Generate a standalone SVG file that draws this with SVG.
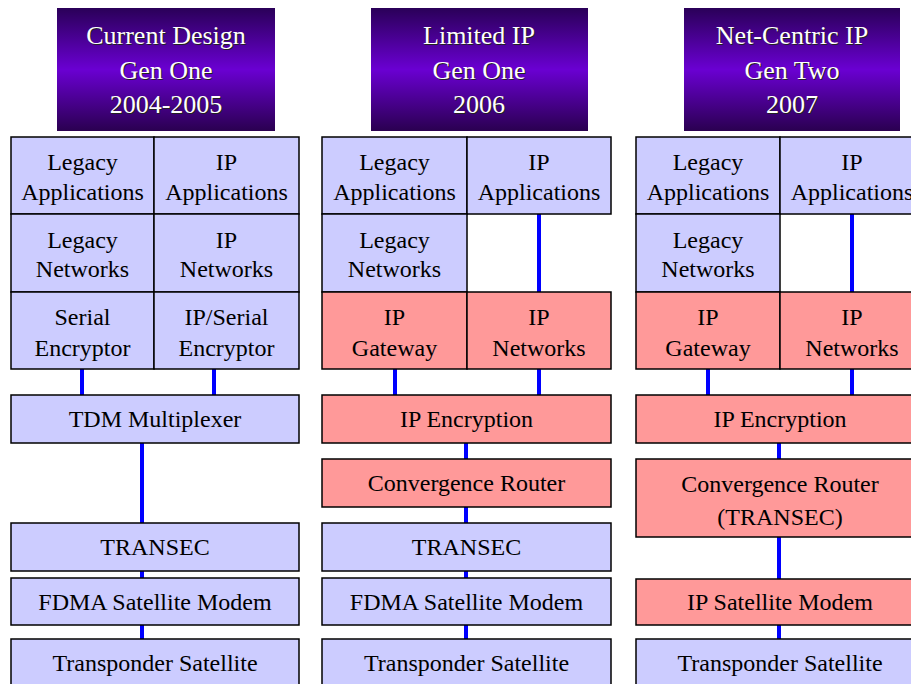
<svg xmlns="http://www.w3.org/2000/svg" width="911" height="684" viewBox="0 0 911 684" font-family="'Liberation Serif', 'DejaVu Serif', serif">
  <defs>
    <linearGradient id="hdrGrad" x1="0" y1="0" x2="0" y2="1">
      <stop offset="0" stop-color="#2a0058"/>
      <stop offset="0.5" stop-color="#6a00d2"/>
      <stop offset="1" stop-color="#2a0050"/>
    </linearGradient>
  </defs>
  <style>
    .hdr { fill: url(#hdrGrad); }
    .ht { font-size: 26px; text-anchor: middle; fill: #ffffff; }
    .hs { font-size: 26px; text-anchor: middle; fill: #222222; }
    .lav { fill: #ccccff; stroke: #000000; stroke-width: 1.5; }
    .red { fill: #ff9999; stroke: #000000; stroke-width: 1.5; }
    .t { font-size: 24px; text-anchor: middle; fill: #000000; }
    .link { stroke: #0000ff; stroke-width: 4; fill: none; }
  </style>
  <rect width="911" height="684" fill="#ffffff"/>

  <!-- column headers -->
  <g id="hdr1" font-family="Liberation Serif">
    <rect class="hdr" x="57" y="8" width="218" height="123"/>
    <text class="hs" x="167" y="45">Current Design</text>
    <text class="ht" x="166" y="44">Current Design</text>
    <text class="hs" x="167" y="80">Gen One</text>
    <text class="ht" x="166" y="79">Gen One</text>
    <text class="hs" x="167" y="114">2004-2005</text>
    <text class="ht" x="166" y="113">2004-2005</text>
  </g>
  <g id="hdr2">
    <rect class="hdr" x="371" y="8" width="217" height="123"/>
    <text class="hs" x="480" y="45">Limited IP</text>
    <text class="ht" x="479" y="44">Limited IP</text>
    <text class="hs" x="480" y="80">Gen One</text>
    <text class="ht" x="479" y="79">Gen One</text>
    <text class="hs" x="480" y="114">2006</text>
    <text class="ht" x="479" y="113">2006</text>
  </g>
  <g id="hdr3">
    <rect class="hdr" x="684" y="8" width="216" height="123"/>
    <text class="hs" x="793" y="45">Net-Centric IP</text>
    <text class="ht" x="792" y="44">Net-Centric IP</text>
    <text class="hs" x="793" y="80">Gen Two</text>
    <text class="ht" x="792" y="79">Gen Two</text>
    <text class="hs" x="793" y="114">2007</text>
    <text class="ht" x="792" y="113">2007</text>
  </g>

  <!-- connectors -->
  <g id="connectors">
    <line class="link" x1="82" y1="369" x2="82" y2="395"/>
    <line class="link" x1="214" y1="369" x2="214" y2="395"/>
    <line class="link" x1="142" y1="443" x2="142" y2="523"/>
    <line class="link" x1="142" y1="571" x2="142" y2="578"/>
    <line class="link" x1="142" y1="625" x2="142" y2="639"/>

    <line class="link" x1="539" y1="214" x2="539" y2="292"/>
    <line class="link" x1="395" y1="369" x2="395" y2="395"/>
    <line class="link" x1="539" y1="369" x2="539" y2="395"/>
    <line class="link" x1="466" y1="443" x2="466" y2="459"/>
    <line class="link" x1="466" y1="507" x2="466" y2="523"/>
    <line class="link" x1="466" y1="571" x2="466" y2="578"/>
    <line class="link" x1="466" y1="625" x2="466" y2="639"/>

    <line class="link" x1="852" y1="214" x2="852" y2="292"/>
    <line class="link" x1="708" y1="369" x2="708" y2="395"/>
    <line class="link" x1="852" y1="369" x2="852" y2="395"/>
    <line class="link" x1="779" y1="443" x2="779" y2="459"/>
    <line class="link" x1="779" y1="537" x2="779" y2="579"/>
    <line class="link" x1="779" y1="625" x2="779" y2="639"/>
  </g>

  <!-- column 1: current design -->
  <g id="c1-legacy-apps">
    <rect class="lav" x="11" y="137" width="143" height="77"/>
    <text class="t" x="82.5" y="170">Legacy</text>
    <text class="t" x="82.5" y="200">Applications</text>
  </g>
  <g id="c1-ip-apps">
    <rect class="lav" x="154" y="137" width="145" height="77"/>
    <text class="t" x="226.5" y="170">IP</text>
    <text class="t" x="226.5" y="200">Applications</text>
  </g>
  <g id="c1-legacy-nets">
    <rect class="lav" x="11" y="214" width="143" height="78"/>
    <text class="t" x="82.5" y="248">Legacy</text>
    <text class="t" x="82.5" y="277">Networks</text>
  </g>
  <g id="c1-ip-nets">
    <rect class="lav" x="154" y="214" width="145" height="78"/>
    <text class="t" x="226.5" y="248">IP</text>
    <text class="t" x="226.5" y="277">Networks</text>
  </g>
  <g id="c1-serial-enc">
    <rect class="lav" x="11" y="292" width="143" height="77"/>
    <text class="t" x="82.5" y="325">Serial</text>
    <text class="t" x="82.5" y="356">Encryptor</text>
  </g>
  <g id="c1-ipserial-enc">
    <rect class="lav" x="154" y="292" width="145" height="77"/>
    <text class="t" x="226.5" y="325">IP/Serial</text>
    <text class="t" x="226.5" y="356">Encryptor</text>
  </g>
  <g id="c1-tdm">
    <rect class="lav" x="11" y="395" width="288" height="48"/>
    <text class="t" x="155" y="427">TDM Multiplexer</text>
  </g>
  <g id="c1-transec">
    <rect class="lav" x="11" y="523" width="288" height="48"/>
    <text class="t" x="155" y="555">TRANSEC</text>
  </g>
  <g id="c1-fdma">
    <rect class="lav" x="11" y="578" width="288" height="47"/>
    <text class="t" x="155" y="610">FDMA Satellite Modem</text>
  </g>
  <g id="c1-transponder">
    <rect class="lav" x="11" y="639" width="288" height="60"/>
    <text class="t" x="155" y="671">Transponder Satellite</text>
  </g>

  <!-- column 2: limited IP -->
  <g id="c2-legacy-apps">
    <rect class="lav" x="322" y="137" width="145" height="77"/>
    <text class="t" x="394.5" y="170">Legacy</text>
    <text class="t" x="394.5" y="200">Applications</text>
  </g>
  <g id="c2-ip-apps">
    <rect class="lav" x="467" y="137" width="144" height="77"/>
    <text class="t" x="539" y="170">IP</text>
    <text class="t" x="539" y="200">Applications</text>
  </g>
  <g id="c2-legacy-nets">
    <rect class="lav" x="322" y="214" width="145" height="78"/>
    <text class="t" x="394.5" y="248">Legacy</text>
    <text class="t" x="394.5" y="277">Networks</text>
  </g>
  <g id="c2-ip-gateway">
    <rect class="red" x="322" y="292" width="145" height="77"/>
    <text class="t" x="394.5" y="325">IP</text>
    <text class="t" x="394.5" y="356">Gateway</text>
  </g>
  <g id="c2-ip-nets">
    <rect class="red" x="467" y="292" width="144" height="77"/>
    <text class="t" x="539" y="325">IP</text>
    <text class="t" x="539" y="356">Networks</text>
  </g>
  <g id="c2-ip-enc">
    <rect class="red" x="322" y="395" width="289" height="48"/>
    <text class="t" x="466.5" y="427">IP Encryption</text>
  </g>
  <g id="c2-conv-router">
    <rect class="red" x="322" y="459" width="289" height="48"/>
    <text class="t" x="466.5" y="491">Convergence Router</text>
  </g>
  <g id="c2-transec">
    <rect class="lav" x="322" y="523" width="289" height="48"/>
    <text class="t" x="466.5" y="555">TRANSEC</text>
  </g>
  <g id="c2-fdma">
    <rect class="lav" x="322" y="578" width="289" height="47"/>
    <text class="t" x="466.5" y="610">FDMA Satellite Modem</text>
  </g>
  <g id="c2-transponder">
    <rect class="lav" x="322" y="639" width="289" height="60"/>
    <text class="t" x="466.5" y="671">Transponder Satellite</text>
  </g>

  <!-- column 3: net-centric IP -->
  <g id="c3-legacy-apps">
    <rect class="lav" x="636" y="137" width="144" height="77"/>
    <text class="t" x="708" y="170">Legacy</text>
    <text class="t" x="708" y="200">Applications</text>
  </g>
  <g id="c3-ip-apps">
    <rect class="lav" x="780" y="137" width="144" height="77"/>
    <text class="t" x="852" y="170">IP</text>
    <text class="t" x="852" y="200">Applications</text>
  </g>
  <g id="c3-legacy-nets">
    <rect class="lav" x="636" y="214" width="144" height="78"/>
    <text class="t" x="708" y="248">Legacy</text>
    <text class="t" x="708" y="277">Networks</text>
  </g>
  <g id="c3-ip-gateway">
    <rect class="red" x="636" y="292" width="144" height="77"/>
    <text class="t" x="708" y="325">IP</text>
    <text class="t" x="708" y="356">Gateway</text>
  </g>
  <g id="c3-ip-nets">
    <rect class="red" x="780" y="292" width="144" height="77"/>
    <text class="t" x="852" y="325">IP</text>
    <text class="t" x="852" y="356">Networks</text>
  </g>
  <g id="c3-ip-enc">
    <rect class="red" x="636" y="395" width="288" height="48"/>
    <text class="t" x="780" y="427">IP Encryption</text>
  </g>
  <g id="c3-conv-router">
    <rect class="red" x="636" y="459" width="288" height="78"/>
    <text class="t" x="780" y="492">Convergence Router</text>
    <text class="t" x="780" y="525">(TRANSEC)</text>
  </g>
  <g id="c3-ip-modem">
    <rect class="red" x="636" y="579" width="288" height="46"/>
    <text class="t" x="780" y="610">IP Satellite Modem</text>
  </g>
  <g id="c3-transponder">
    <rect class="lav" x="636" y="639" width="288" height="60"/>
    <text class="t" x="780" y="671">Transponder Satellite</text>
  </g>
</svg>
